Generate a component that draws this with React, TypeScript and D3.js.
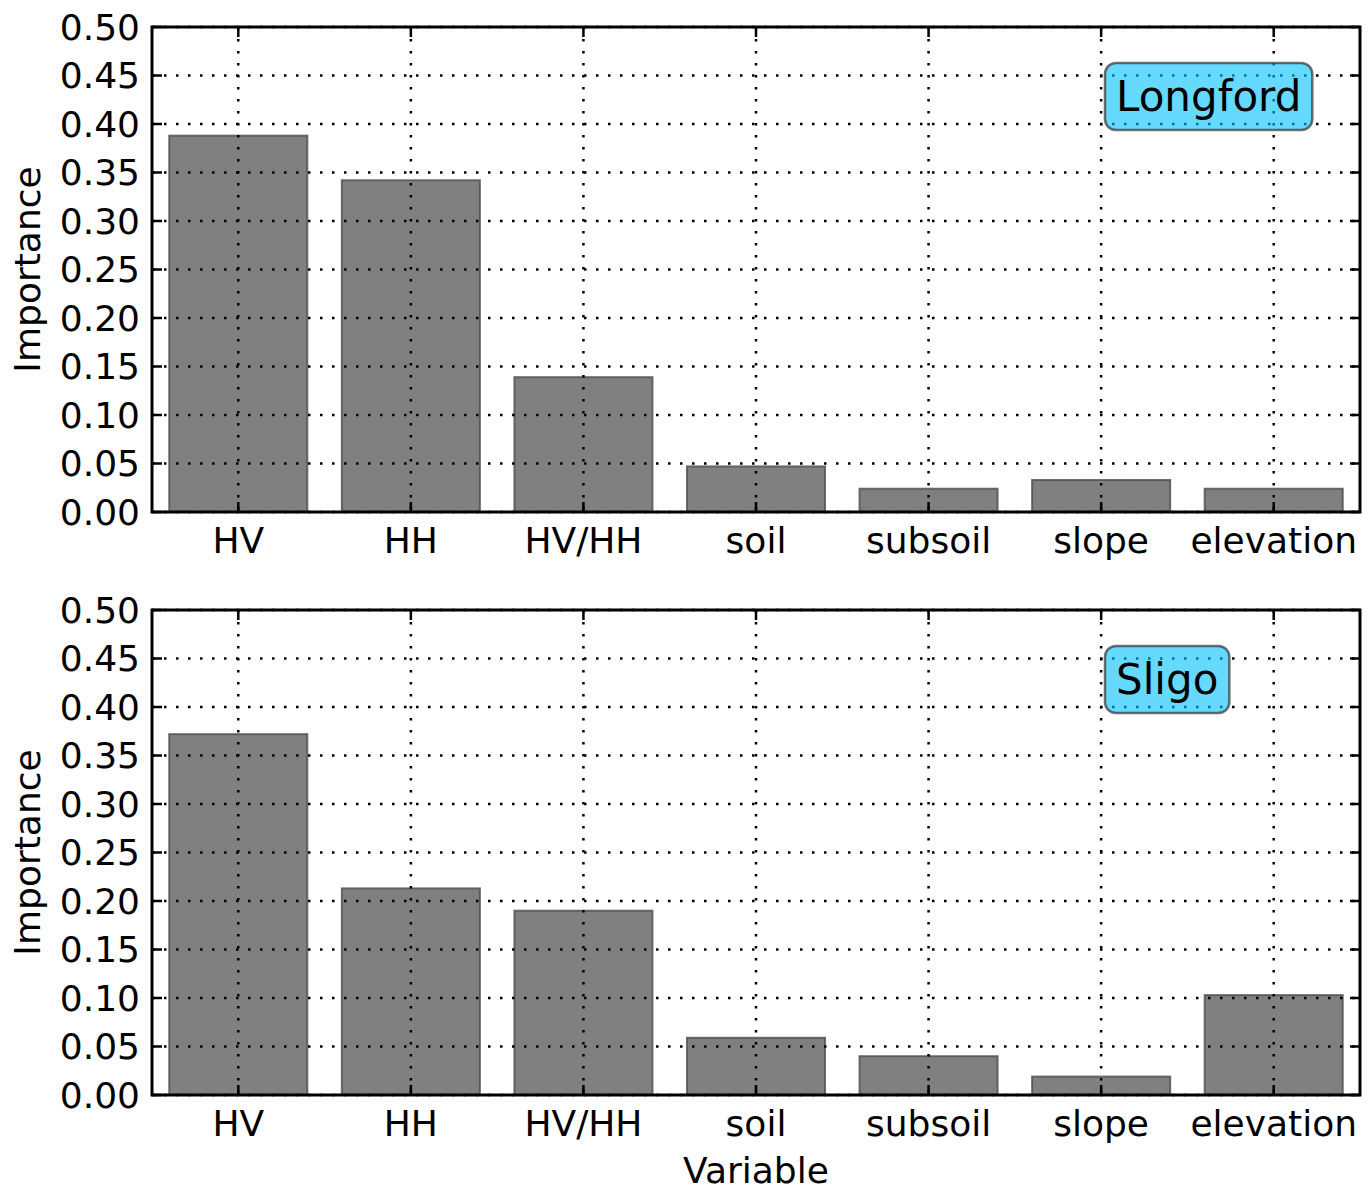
import React, { useEffect, useRef, useState } from "react";
import * as d3 from "d3";

const categories = ["HV", "HH", "HV/HH", "soil", "subsoil", "slope", "elevation"];
const longfordValues = [0.388, 0.342, 0.139, 0.047, 0.024, 0.033, 0.024];
const sligoValues = [0.372, 0.213, 0.19, 0.059, 0.04, 0.019, 0.103];
const yTicks = [0, 0.05, 0.1, 0.15, 0.2, 0.25, 0.3, 0.35, 0.4, 0.45, 0.5];
const panelNames = ["Longford", "Sligo"];

const W = 1370;
const H = 1192;
const FONT = "DejaVu Sans, sans-serif";

function Label({ x, y, text }: { x: number; y: number; text: string }) {
  const ref = useRef<SVGTextElement>(null);
  const [w, setW] = useState(text.length * 24);
  useEffect(() => {
    if (ref.current) setW(ref.current.getComputedTextLength());
  }, [text]);
  const pad = 11;
  const h = 67;
  return (
    <g>
      <rect
        x={x}
        y={y - h / 2}
        width={w + 2 * pad}
        height={h}
        rx={11}
        ry={11}
        fill="#00bfff"
        fillOpacity={0.6}
        stroke="#333"
        strokeOpacity={0.7}
        strokeWidth={2.5}
      />
      <text
        ref={ref}
        x={x + pad}
        y={y}
        dy="0.35em"
        fontFamily={FONT}
        fontSize={42}
        fill="#000"
      >
        {text}
      </text>
    </g>
  );
}

function Panel({ top, values, name, showXLabel }: { top: number; values: number[]; name: string; showXLabel: boolean }) {
  const left = 152;
  const right = 1360;
  const bottom = top + 485;
  const x = d3.scaleBand<string>().domain(categories).range([left, right]).paddingInner(0.2).paddingOuter(0.1);
  const xc = (c: string) => (x(c) as number) + x.bandwidth() / 2;
  const y = d3.scaleLinear().domain([0, 0.5]).range([bottom, top]);
  const tickLen = 10;
  return (
    <g>
      {categories.map((c, i) => (
        <rect
          key={c}
          x={x(c)}
          y={y(values[i])}
          width={x.bandwidth()}
          height={y(0) - y(values[i])}
          fill="#808080"
          stroke="#4d4d4d"
          strokeOpacity={0.8}
          strokeWidth={2}
        />
      ))}
      {yTicks.map((t) => (
        <line key={"gy" + t} x1={left} x2={right} y1={y(t)} y2={y(t)} stroke="#000" strokeWidth={2.5} strokeDasharray="2.5,9.5" />
      ))}
      {categories.map((c) => (
        <line key={"gx" + c} x1={xc(c)} x2={xc(c)} y1={top} y2={bottom} stroke="#000" strokeWidth={2.5} strokeDasharray="2.5,9.5" />
      ))}
      <Label x={1105} y={top + 69.5} text={name} />
      {yTicks.map((t) => (
        <g key={"ty" + t}>
          <line x1={left} x2={left + tickLen} y1={y(t)} y2={y(t)} stroke="#000" strokeWidth={2.5} />
          <line x1={right} x2={right - tickLen} y1={y(t)} y2={y(t)} stroke="#000" strokeWidth={2.5} />
          <text x={left - 12} y={y(t)} dy="0.36em" textAnchor="end" fontFamily={FONT} fontSize={36}>
            {d3.format(".2f")(t)}
          </text>
        </g>
      ))}
      {categories.map((c) => (
        <g key={"tx" + c}>
          <line x1={xc(c)} x2={xc(c)} y1={bottom} y2={bottom - tickLen} stroke="#000" strokeWidth={2.5} />
          <line x1={xc(c)} x2={xc(c)} y1={top} y2={top + tickLen} stroke="#000" strokeWidth={2.5} />
          <text x={xc(c)} y={bottom + 41} textAnchor="middle" fontFamily={FONT} fontSize={36}>
            {c}
          </text>
        </g>
      ))}
      <rect x={left} y={top} width={right - left} height={bottom - top} fill="none" stroke="#000" strokeWidth={3} />
      <text
        transform={`translate(40,${(top + bottom) / 2}) rotate(-90)`}
        textAnchor="middle"
        fontFamily={FONT}
        fontSize={36}
      >
        Importance
      </text>
      {showXLabel && (
        <text x={(left + right) / 2} y={bottom + 88} textAnchor="middle" fontFamily={FONT} fontSize={36}>
          Variable
        </text>
      )}
    </g>
  );
}

export default function App() {
  return (
    <svg width={W} height={H} style={{ position: "absolute", left: 0, top: 0, background: "#fff" }}>
      <rect width={W} height={H} fill="#fff" />
      <Panel top={27} values={longfordValues} name={panelNames[0]} showXLabel={false} />
      <Panel top={610} values={sligoValues} name={panelNames[1]} showXLabel={true} />
    </svg>
  );
}
